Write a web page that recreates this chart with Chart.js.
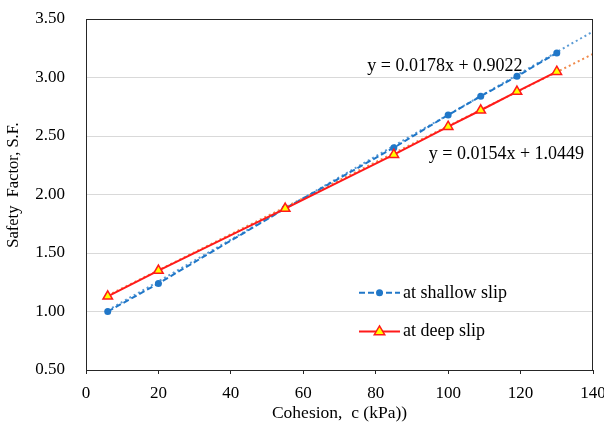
<!DOCTYPE html>
<html>
<head>
<meta charset="utf-8">
<script src="https://cdn.jsdelivr.net/npm/chart.js@4.4.0/dist/chart.umd.min.js"></script>
<style>
  html, body { margin: 0; padding: 0; background: #fff; }
  #wrap { width: 604px; height: 431px; position: relative; }
</style>
</head>
<body>
<div id="wrap"><canvas id="c" width="604" height="431"></canvas></div>
<script>
// ---- Data ----
const cohesion = [6, 20, 55, 85, 100, 109, 119, 130];
const shallowSF = [1.00, 1.24, 1.88, 2.40, 2.68, 2.84, 3.01, 3.21];
const deepSF    = [1.13, 1.35, 1.88, 2.34, 2.58, 2.72, 2.88, 3.05];
// Trendline equations shown on the chart: [slope, intercept]
const shallowFit = [0.0178, 0.9022];
const deepFit    = [0.0154, 1.0449];
const trendRange = [6, 140];
const xTicks = [0, 20, 40, 60, 80, 100, 120, 140];
const yTicks = [0.50, 1.00, 1.50, 2.00, 2.50, 3.00, 3.50];
const seriesNames = ['at shallow slip', 'at deep slip'];
const eqLabels = ['y = 0.0178x + 0.9022', 'y = 0.0154x + 1.0449'];

const BLUE = '#2077C8';
const RED = '#FF1A1A';
const FONT = "'Liberation Serif', 'Times New Roman', serif";

const pts = (xs, ys) => xs.map((x, i) => ({x: x, y: ys[i]}));
const trend = (f) => trendRange.map(x => ({x: x, y: f[0] * x + f[1]}));

const overlay = {
  id: 'overlay',
  afterDraw(chart) {
    const {ctx, chartArea: a, scales: {x, y}} = chart;
    ctx.save();
    // plot border
    ctx.strokeStyle = '#262626';
    ctx.lineWidth = 1;
    ctx.strokeRect(a.left + 0.5, a.top + 0.5, a.right - a.left - 1, a.bottom - a.top);
    // y-axis title (rotated)
    ctx.save();
    ctx.translate(14, 185);
    ctx.rotate(-Math.PI / 2);
    ctx.fillStyle = '#000';
    ctx.font = '16.5px ' + FONT;
    ctx.textAlign = 'center';
    ctx.textBaseline = 'middle';
    ctx.fillText('Safety  Factor, S.F.', 0, 0);
    ctx.restore();
    // equation labels
    ctx.fillStyle = '#000';
    ctx.font = '18px ' + FONT;
    ctx.textBaseline = 'middle';
    ctx.textAlign = 'center';
    ctx.fillText(eqLabels[0], x.getPixelForValue(99.1), y.getPixelForValue(3.10));
    ctx.fillText(eqLabels[1], x.getPixelForValue(116.1), y.getPixelForValue(2.345));
    // legend inside the plot
    const items = [
      {name: seriesNames[0], color: BLUE, dash: [6, 3], style: 'circle', fill: BLUE, yv: 1.16},
      {name: seriesNames[1], color: RED, dash: [], style: 'triangle', fill: '#FFFF00', yv: 0.83}
    ];
    items.forEach(it => {
      const yy = y.getPixelForValue(it.yv);
      const x0 = 359, x1 = 400, xm = 379.5;
      ctx.beginPath();
      ctx.setLineDash(it.dash);
      ctx.strokeStyle = it.color;
      ctx.lineWidth = 2;
      ctx.moveTo(x0, yy);
      ctx.lineTo(x1, yy);
      ctx.stroke();
      ctx.setLineDash([]);
      ctx.beginPath();
      if (it.style === 'circle') {
        ctx.arc(xm, yy, 3.5, 0, Math.PI * 2);
        ctx.fillStyle = it.fill;
        ctx.fill();
      } else {
        const r = 5.5;
        ctx.moveTo(xm, yy - r);
        ctx.lineTo(xm + r * 0.95, yy + r * 0.6);
        ctx.lineTo(xm - r * 0.95, yy + r * 0.6);
        ctx.closePath();
        ctx.fillStyle = it.fill;
        ctx.fill();
        ctx.strokeStyle = RED;
        ctx.lineWidth = 1.5;
        ctx.stroke();
      }
      ctx.fillStyle = '#000';
      ctx.font = '18px ' + FONT;
      ctx.textAlign = 'left';
      ctx.fillText(it.name, 403, yy);
    });
    ctx.restore();
  }
};

new Chart(document.getElementById('c'), {
  type: 'scatter',
  data: {
    datasets: [
      {
        label: 'shallow trend',
        data: trend(shallowFit),
        showLine: true,
        borderColor: '#5B9BD5',
        borderWidth: 2,
        borderDash: [2, 3],
        pointRadius: 0,
        order: 4
      },
      {
        label: 'deep trend',
        data: trend(deepFit),
        showLine: true,
        borderColor: '#F08A4B',
        borderWidth: 2,
        borderDash: [2, 3],
        pointRadius: 0,
        order: 3
      },
      {
        label: seriesNames[0],
        data: pts(cohesion, shallowSF),
        showLine: true,
        borderColor: BLUE,
        backgroundColor: BLUE,
        borderWidth: 2,
        borderDash: [6, 3],
        pointStyle: 'circle',
        pointRadius: 3.5,
        pointBorderWidth: 0,
        order: 2
      },
      {
        label: seriesNames[1],
        data: pts(cohesion, deepSF),
        showLine: true,
        borderColor: RED,
        backgroundColor: '#FFFF00',
        borderWidth: 2,
        pointStyle: 'triangle',
        pointRadius: 5.5,
        pointBorderColor: RED,
        pointBorderWidth: 1.5,
        order: 1
      }
    ]
  },
  options: {
    responsive: false,
    animation: false,
    layout: { padding: { top: 19, right: 11, left: 0, bottom: 0 } },
    plugins: { legend: { display: false }, tooltip: { enabled: false } },
    scales: {
      x: {
        type: 'linear',
        min: 0, max: 140,
        afterBuildTicks: (s) => { s.ticks = xTicks.map(v => ({value: v})); },
        afterFit: (s) => { s.height = 61; s.paddingLeft = 0; s.paddingRight = 0; },
        grid: { drawOnChartArea: false, drawTicks: true, tickLength: 4, color: '#262626' },
        border: { color: '#262626', width: 1 },
        ticks: { color: '#000', font: { family: FONT, size: 17 }, padding: 9, maxRotation: 0 },
        title: { display: true, text: 'Cohesion,  c (kPa))', color: '#000',
                 font: { family: FONT, size: 17.5 }, padding: { top: 0, bottom: 7 } }
      },
      y: {
        type: 'linear',
        min: 0.5, max: 3.5,
        afterBuildTicks: (s) => { s.ticks = yTicks.map(v => ({value: v})); },
        afterFit: (s) => { s.width = 86; s.paddingTop = 0; s.paddingBottom = 0; },
        grid: { color: '#D9D9D9', drawTicks: false },
        border: { color: '#262626', width: 1 },
        ticks: { color: '#000', font: { family: FONT, size: 17 }, padding: 21,
                 callback: (v) => Number(v).toFixed(2) },
        title: { display: false }
      }
    }
  },
  plugins: [overlay]
});
</script>
</body>
</html>
